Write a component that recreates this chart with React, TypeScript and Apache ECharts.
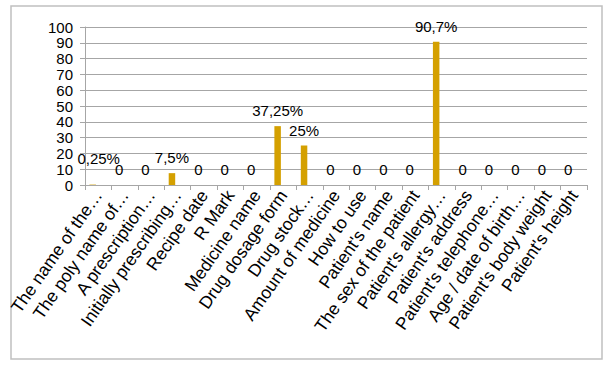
import React, { useEffect, useRef } from "react";
import * as echarts from "echarts";

const categories = [
  "The name of the…",
  "The poly name of…",
  "A prescription…",
  "Initially prescribing…",
  "Recipe date",
  "R Mark",
  "Medicine name",
  "Drug dosage form",
  "Drug stock…",
  "Amount of medicine",
  "How to use",
  "Patient's name",
  "The sex of the patient",
  "Patient's allergy…",
  "Patient's address",
  "Patient's telephone…",
  "Age / date of birth…",
  "Patient's body weight",
  "Patient's height",
];

const values = [0.25, 0, 0, 7.5, 0, 0, 0, 37.25, 25, 0, 0, 0, 0, 90.7, 0, 0, 0, 0, 0];
const valueLabels = ["0,25%", "0", "0", "7,5%", "0", "0", "0", "37,25%", "25%", "0", "0", "0", "0", "90,7%", "0", "0", "0", "0", "0"];

const yMin = 0;
const yMax = 100;
const yStep = 10;

const font = "'Liberation Sans', Arial, sans-serif";

export default function App() {
  const ref = useRef<HTMLDivElement>(null);
  useEffect(() => {
    if (!ref.current) return;
    const chart = echarts.init(ref.current, null, { renderer: "svg" });
    chart.setOption({
      animation: false,
      backgroundColor: "#fff",
      textStyle: { fontFamily: font },
      graphic: [
        {
          type: "rect",
          shape: { x: 11, y: 6, width: 591, height: 353 },
          style: { fill: "none", stroke: "#c0c0c0", lineWidth: 1.5 },
          silent: true,
          z: -1,
        },
      ],
      grid: { left: 85, right: 22, top: 27, bottom: 182, containLabel: false },
      xAxis: {
        type: "category",
        data: categories,
        boundaryGap: true,
        axisLine: { lineStyle: { color: "#a6a6a6", width: 1 } },
        axisTick: { show: true, length: 5, lineStyle: { color: "#a6a6a6" } },
        axisLabel: {
          interval: 0,
          rotate: 55,
          margin: 7,
          fontSize: 17.5,
          fontFamily: font,
          color: "#000",
          hideOverlap: false,
        },
      },
      yAxis: {
        type: "value",
        min: yMin,
        max: yMax,
        interval: yStep,
        axisLine: { show: true, lineStyle: { color: "#a6a6a6" } },
        axisTick: { show: true, length: 5, lineStyle: { color: "#a6a6a6" } },
        splitLine: { lineStyle: { color: "#a6a6a6", width: 1 } },
        axisLabel: {
          margin: 12,
          fontSize: 15,
          fontFamily: font,
          color: "#000",
          showMinLabel: true,
          showMaxLabel: true,
          hideOverlap: false,
        },
      },
      series: [
        {
          type: "bar",
          barWidth: 6.5,
          barGap: "70%",
          itemStyle: { color: "#d4a000" },
          data: values.map((v, i) =>
            i === 0
              ? { value: v, label: { offset: [6, -11] } }
              : { value: v }
          ),
          label: {
            show: true,
            position: "top",
            distance: 8,
            fontSize: 15,
            fontFamily: font,
            color: "#000",
            formatter: (p: any) => valueLabels[p.dataIndex],
          },
        },
        {
          type: "bar",
          name: "gap",
          barWidth: 6.5,
          data: [],
          silent: true,
        },
      ],
    });
    return () => chart.dispose();
  }, []);
  return (
    <div
      ref={ref}
      style={{ position: "absolute", left: 0, top: 0, width: 609, height: 367 }}
    />
  );
}
